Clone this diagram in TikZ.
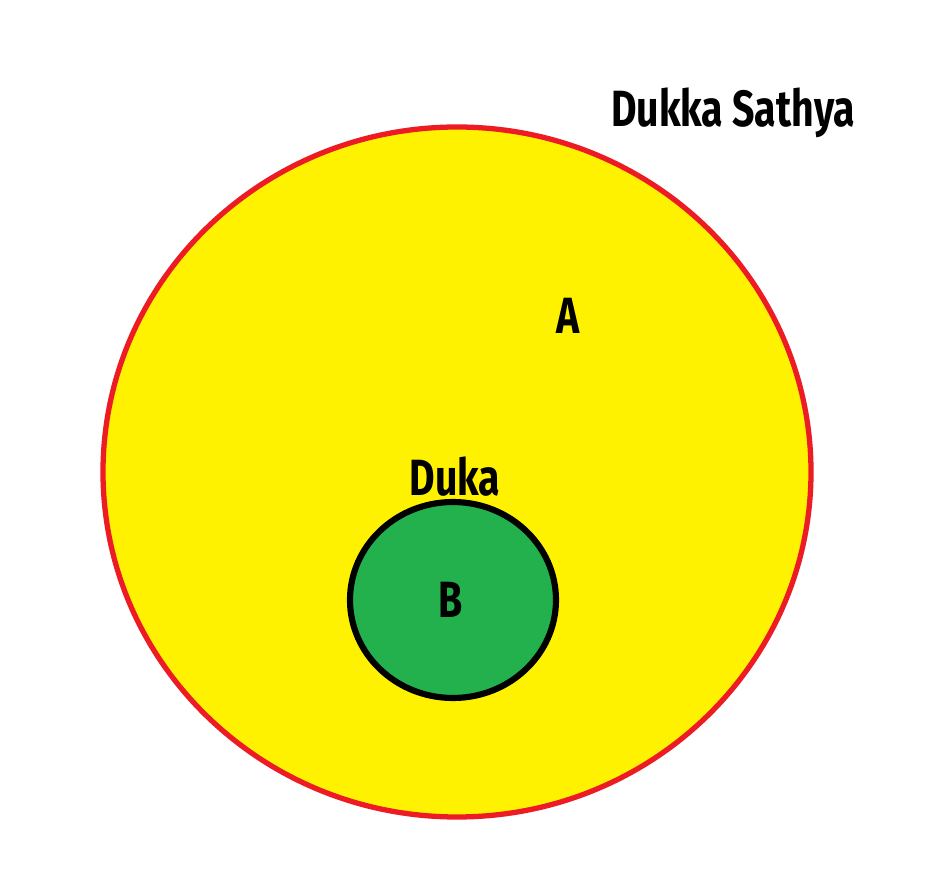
\documentclass[tikz,border=0pt]{standalone}
\usepackage{fontspec}
\setmainfont{Fira Sans}
\definecolor{paintyellow}{HTML}{FFF200}
\definecolor{paintred}{HTML}{ED1C24}
\definecolor{paintgreen}{HTML}{22B14C}
\tikzset{
  lbl/.style={font=\fontsize{29}{32}\selectfont\bfseries, xscale=0.77, inner sep=0pt},
}
\begin{document}
\begin{tikzpicture}[x=0.02cm, y=-0.02cm]
            \useasboundingbox (0,0) rectangle (944,878);
            \fill[white] (0,0) rectangle (944,878);
            
            \draw[paintred, line width=3pt, fill=paintyellow] (457,472) ellipse [x radius=354, y radius=345];
            \draw[black, line width=3.5pt, fill=paintgreen] (453,600) ellipse [x radius=103, y radius=98];
            
            \node[lbl] (sathya) at (733,113) {Dukka Sathya};
            \node[lbl] (A) at (568,316) {A};
            \node[lbl] (duka) at (455,477) {Duka};
            \node[lbl] (B) at (451,600) {B};
          \end{tikzpicture}
\end{document}
